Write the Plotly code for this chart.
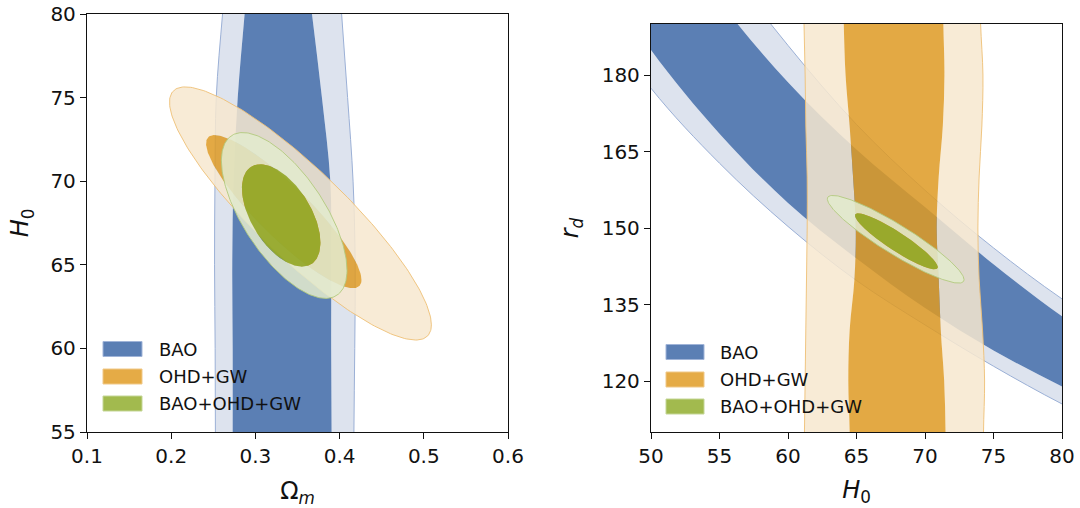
import numpy as np
import plotly.graph_objects as go

# ---------------- data ----------------
series_names = ["BAO", "OHD+GW", "BAO+OHD+GW"]

# Left panel: Omega_m (x) vs H0 (y)
left_x_ticks = [0.1, 0.2, 0.3, 0.4, 0.5, 0.6]
left_y_ticks = [55, 60, 65, 70, 75, 80]

# BAO band: Omega_m edges at given H0 levels
bao_left_h0 = [50, 55, 60, 65, 70, 75, 80, 85]
bao_left_outer_lo = [0.2525, 0.2525, 0.2522, 0.2515, 0.2520, 0.2535, 0.2610, 0.2700]
bao_left_inner_lo = [0.2730, 0.2730, 0.2730, 0.2725, 0.2740, 0.2790, 0.2872, 0.2960]
bao_left_inner_hi = [0.3905, 0.3905, 0.3900, 0.3900, 0.3890, 0.3790, 0.3672, 0.3550]
bao_left_outer_hi = [0.4170, 0.4170, 0.4180, 0.4185, 0.4160, 0.4095, 0.4024, 0.3950]

# Elliptical contours: [centre x, centre y, x half-extent, y half-extent, correlation]
ohd_left_outer = [0.3535, 68.07, 0.1555, 7.57, -0.88]
ohd_left_inner = [0.3337, 68.18, 0.0923, 4.58, -0.89]
joint_left_outer = [0.3342, 67.95, 0.0746, 4.96, -0.66]
joint_left_inner = [0.3306, 67.95, 0.0466, 3.06, -0.53]

# Right panel: H0 (x) vs r_d (y)
right_x_ticks = [50, 55, 60, 65, 70, 75, 80]
right_y_ticks = [120, 135, 150, 165, 180]

# BAO band: r_d edges at given H0 values
bao_right_h0 = [45, 50, 55, 60, 65, 70, 75, 80, 85]
bao_right_outer_hi = [250.0, 224.0, 203.3, 185.8, 170.3, 157.4, 146.1, 136.1, 127.5]
bao_right_inner_hi = [237.5, 213.8, 194.5, 178.6, 165.4, 154.1, 142.9, 132.7, 124.0]
bao_right_inner_lo = [205.5, 184.9, 168.5, 154.9, 144.0, 134.3, 126.0, 118.9, 112.5]
bao_right_outer_lo = [196.5, 177.4, 162.7, 150.3, 139.7, 131.0, 122.9, 115.5, 109.0]

# OHD+GW band: H0 edges at given r_d values
ohd_right_rd = [100, 110, 120, 130, 140, 150, 160, 170, 180, 190, 200]
ohd_right_outer_lo = [61.2, 61.2, 61.25, 61.3, 61.35, 61.4, 61.4, 61.3, 61.25, 61.17, 61.1]
ohd_right_inner_lo = [64.5, 64.5, 64.4, 64.5, 64.85, 64.95, 64.75, 64.5, 64.2, 64.07, 64.0]
ohd_right_inner_hi = [71.5, 71.5, 71.4, 71.15, 71.0, 70.85, 71.0, 71.3, 71.42, 71.34, 71.3]
ohd_right_outer_hi = [74.27, 74.27, 74.35, 74.2, 73.95, 73.86, 73.95, 74.15, 74.23, 74.06, 74.0]

joint_right_outer = [67.86, 147.79, 4.99, 8.6, -0.92]
joint_right_inner = [67.91, 147.39, 3.02, 5.49, -0.92]

# ---------------- styles ----------------
FONT = "DejaVu Sans"
BAO_DARK, BAO_LIGHT, BAO_LINE = "rgb(91,127,180)", "rgb(221,227,238)", "rgb(155,176,214)"
OHD_DARK, OHD_LIGHT, OHD_LINE = "rgba(222,154,35,0.85)", "rgba(247,231,207,0.85)", "rgba(238,192,118,0.9)"
JNT_DARK, JNT_LIGHT, JNT_LINE = "rgba(150,170,43,0.95)", "rgba(226,234,206,0.87)", "rgba(179,202,126,0.9)"
LEG_FILL = ["rgb(91,127,180)", "rgb(229,171,70)", "rgb(162,186,78)"]
LEG_EDGE = ["rgb(160,180,216)", "rgb(240,200,135)", "rgb(196,214,150)"]

W, H = 1080, 508


def ellipse(p, n=240):
    cx, cy, sx, sy, r = p
    t = np.linspace(0, 2 * np.pi, n, endpoint=False)
    x = cx + sx * np.cos(t)
    y = cy + sy * (r * np.cos(t) + np.sqrt(1 - r * r) * np.sin(t))
    return list(x), list(y)


def annulus(ox, oy, ix, iy):
    return ox + [None] + ix[::-1], oy + [None] + iy[::-1]


fig = go.Figure()


def add_fill(x, y, color, xa, ya, shape="linear"):
    fig.add_trace(go.Scatter(x=x, y=y, mode="lines", fill="toself", fillcolor=color,
                             line=dict(width=0, color=color, shape=shape),
                             hoverinfo="skip", showlegend=False, xaxis=xa, yaxis=ya))


def add_line(x, y, color, xa, ya, shape="linear"):
    fig.add_trace(go.Scatter(x=x, y=y, mode="lines", line=dict(width=1, color=color, shape=shape),
                             hoverinfo="skip", showlegend=False, xaxis=xa, yaxis=ya))


def vband(levels, olo, ilo, ihi, ohi, dark, light, line, xa, ya):
    # band whose edges are x = f(y)
    ox = olo + ohi[::-1]
    oy = levels + levels[::-1]
    ix = ilo + ihi[::-1]
    iy = levels + levels[::-1]
    ax_, ay_ = annulus(ox, oy, ix, iy)
    add_fill(ax_, ay_, light, xa, ya, "spline")
    add_fill(ix, iy, dark, xa, ya, "spline")
    add_line(olo, levels, line, xa, ya, "spline")
    add_line(ohi, levels, line, xa, ya, "spline")


def hband(levels, ohi, ihi, ilo, olo, dark, light, line, xa, ya):
    # band whose edges are y = f(x)
    ox = levels + levels[::-1]
    oy = ohi + olo[::-1]
    ix = levels + levels[::-1]
    iy = ihi + ilo[::-1]
    ax_, ay_ = annulus(ox, oy, ix, iy)
    add_fill(ax_, ay_, light, xa, ya, "spline")
    add_fill(ix, iy, dark, xa, ya, "spline")
    add_line(levels, ohi, line, xa, ya, "spline")
    add_line(levels, olo, line, xa, ya, "spline")


def ellipse_pair(outer, inner, dark, light, line, xa, ya):
    ox, oy = ellipse(outer)
    ix, iy = ellipse(inner)
    ax_, ay_ = annulus(ox, oy, ix, iy)
    add_fill(ax_, ay_, light, xa, ya)
    add_fill(ix, iy, dark, xa, ya)
    add_line(ox + [ox[0]], oy + [oy[0]], line, xa, ya)


# ---- left panel ----
vband(bao_left_h0, bao_left_outer_lo, bao_left_inner_lo, bao_left_inner_hi, bao_left_outer_hi,
      BAO_DARK, BAO_LIGHT, BAO_LINE, "x", "y")
ellipse_pair(ohd_left_outer, ohd_left_inner, OHD_DARK, OHD_LIGHT, OHD_LINE, "x", "y")
ellipse_pair(joint_left_outer, joint_left_inner, JNT_DARK, JNT_LIGHT, JNT_LINE, "x", "y")

# ---- right panel ----
hband(bao_right_h0, bao_right_outer_hi, bao_right_inner_hi, bao_right_inner_lo, bao_right_outer_lo,
      BAO_DARK, BAO_LIGHT, BAO_LINE, "x2", "y2")
vband(ohd_right_rd, ohd_right_outer_lo, ohd_right_inner_lo, ohd_right_inner_hi, ohd_right_outer_hi,
      OHD_DARK, OHD_LIGHT, OHD_LINE, "x2", "y2")
ellipse_pair(joint_right_outer, joint_right_inner, JNT_DARK, JNT_LIGHT, JNT_LINE, "x2", "y2")

# ---------------- layout ----------------
axis_common = dict(showgrid=False, zeroline=False, showline=True, mirror=True, automargin=False,
                   linecolor="#111111", linewidth=1.3, ticks="outside", ticklen=6,
                   tickwidth=1.2, tickcolor="#111111",
                   tickfont=dict(family=FONT, size=20, color="#111111"))
title_font = dict(family=FONT, size=24, color="#111111")

fig.update_layout(
    template="none",
    width=W, height=H,
    margin=dict(l=0, r=0, t=0, b=0, autoexpand=False),
    paper_bgcolor="white", plot_bgcolor="white",
    showlegend=False,
    font=dict(family=FONT),
    xaxis=dict(axis_common, domain=[87 / W, 508 / W], range=[0.1, 0.6], tickvals=left_x_ticks,
               tickformat=".1f", anchor="y",
               title=dict(text="Ω<sub><i>m</i></sub>", font=title_font, standoff=16)),
    yaxis=dict(axis_common, domain=[1 - 432 / H, 1 - 14 / H], range=[55, 80], tickvals=left_y_ticks,
               anchor="x", title=dict(text="<i>H</i><sub>0</sub>", font=title_font, standoff=14)),
    xaxis2=dict(axis_common, domain=[651 / W, 1062 / W], range=[50, 80], tickvals=right_x_ticks,
                anchor="y2", title=dict(text="<i>H</i><sub>0</sub>", font=title_font, standoff=14)),
    yaxis2=dict(axis_common, domain=[1 - 432 / H, 1 - 24 / H], range=[110, 190], tickvals=right_y_ticks,
                anchor="x2", title=dict(text="<i>r</i><sub><i>d</i></sub>", font=title_font, standoff=16)),
)

# ---------------- legends (matplotlib-style patches) ----------------
legend_specs = [
    (103, 142, 157, [349.0, 376.5, 403.5]),
    (666, 704, 718, [352.0, 379.5, 406.5]),
]
for x0, x1, xt, ys in legend_specs:
    for i, name in enumerate(series_names):
        yc = ys[i]
        fig.add_shape(type="rect", xref="paper", yref="paper",
                      x0=x0 / W, x1=x1 / W, y0=1 - (yc - 7.5) / H, y1=1 - (yc + 7.5) / H,
                      fillcolor=LEG_FILL[i], line=dict(color=LEG_EDGE[i], width=1))
        fig.add_annotation(xref="paper", yref="paper", x=xt / W, y=1 - yc / H,
                           text=name, showarrow=False, xanchor="left", yanchor="middle",
                           font=dict(family=FONT, size=18, color="#111111"))

fig.write_html("out.html", config={"displayModeBar": False},
               post_script="document.body.style.margin='0';document.body.style.overflow='hidden';")
